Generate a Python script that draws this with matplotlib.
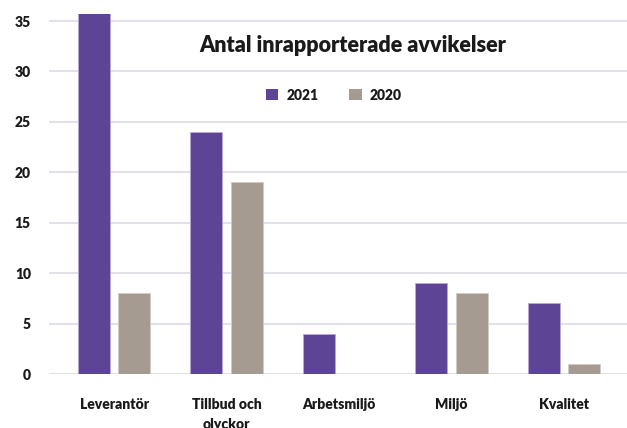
import matplotlib
matplotlib.use("Agg")
import matplotlib.pyplot as plt
import numpy as np
from matplotlib.patches import Patch

categories = ["Leverantör", "Tillbud och\nolyckor", "Arbetsmiljö", "Miljö", "Kvalitet"]
series_2021 = [36, 24, 4, 9, 7]
series_2020 = [8, 19, 0, 8, 1]
yticks = [0, 5, 10, 15, 20, 25, 30, 35]
title = "Antal inrapporterade avvikelser"

c2021 = "#5E4495"
c2020 = "#A69B91"
text_c = "#1A1A1A"
grid_c = "#E2E0E8"

plt.rcParams['font.family'] = ['Lato', 'DejaVu Sans']

fig = plt.figure(figsize=(6.27, 4.28), dpi=100)
ax = fig.add_axes([49/627, 54/428, 1 - 49/627, (374-14)/428])

x = np.arange(len(categories))
w = 0.285
off = 0.18
ax.bar(x - off, series_2021, width=w, color=c2021, edgecolor="#B7A8D6", linewidth=0.6, zorder=3)
ax.bar(x + off, series_2020, width=w, color=c2020, edgecolor="#D3CBC4", linewidth=0.6, zorder=3)

ax.set_xlim(-0.58, 4.56)
ax.set_ylim(0, 35.7)
ax.set_yticks(yticks)
ax.set_yticklabels([str(v) for v in yticks], fontsize=10, fontweight='heavy', color=text_c)
ax.set_xticks(x)
ax.set_xticklabels(categories, fontsize=10, fontweight='heavy', color=text_c, linespacing=1.7)
ax.tick_params(axis='both', length=0)
ax.tick_params(axis='x', pad=17)
ax.tick_params(axis='y', pad=13)
for s in ax.spines.values():
    s.set_visible(False)
ax.yaxis.grid(True, color=grid_c, linewidth=1.5, zorder=0)
ax.set_axisbelow(True)

fig.text(353/627, 1 - 45/428, title, ha='center', va='center', fontsize=15.5, fontweight='heavy', color=text_c)

handles = [Patch(facecolor=c2021, label="2021"), Patch(facecolor=c2020, label="2020")]
leg = fig.legend(handles=handles, loc='center', bbox_to_anchor=(334/627, 1 - 95/428), ncol=2, frameon=False,
                 handlelength=0.9, handleheight=0.9, columnspacing=2.2, handletextpad=0.6,
                 prop={'family': ['Lato', 'DejaVu Sans'], 'weight': 'heavy', 'size': 10})
for t in leg.get_texts():
    t.set_color(text_c)

fig.savefig("out.png", dpi=100)
